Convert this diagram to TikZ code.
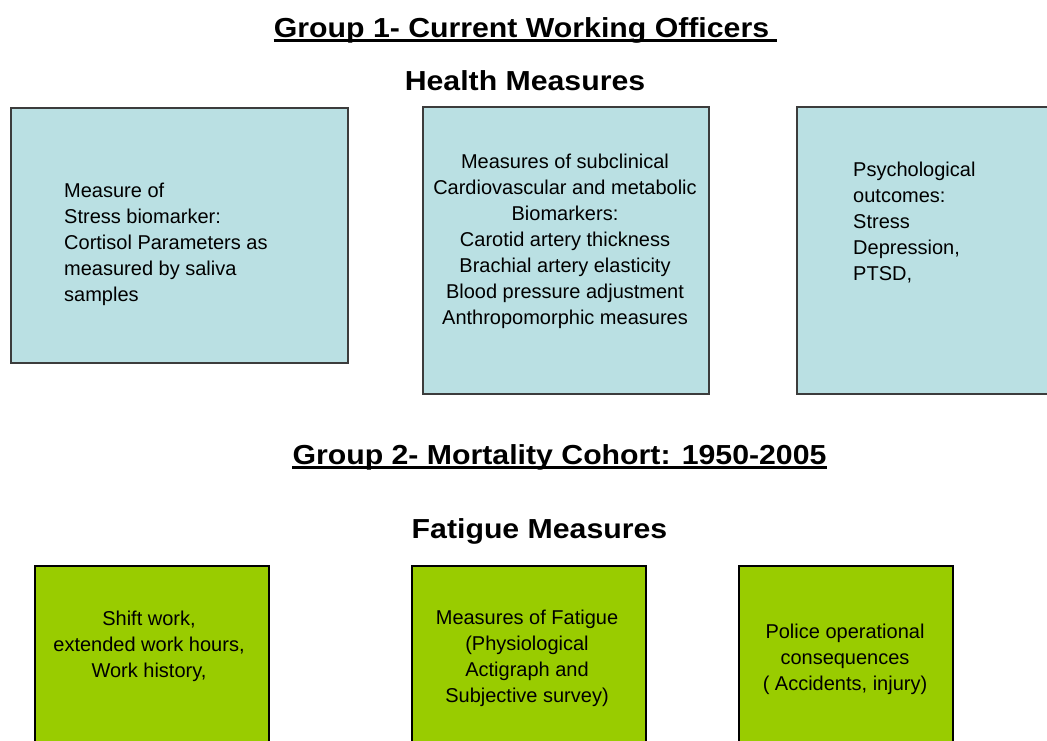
\documentclass[tikz,border=0pt]{standalone}
\usepackage{fontspec}
\setmainfont{Liberation Sans}
\newfontfamily\titlefont[FakeStretch=1.1]{Liberation Sans}
\usetikzlibrary{calc}

\definecolor{healthfill}{RGB}{186,224,227}
\definecolor{healthline}{RGB}{60,60,60}
\definecolor{fatiguefill}{RGB}{153,204,0}

\tikzset{
  heading/.style={inner sep=0pt, anchor=base, font=\titlefont\bfseries\fontsize{27.5}{33}\selectfont},
  headrule/.style={line width=2.5pt},
  healthbox/.style={draw=healthline, fill=healthfill, line width=1.5pt, inner sep=0pt, anchor=north west},
  fatiguebox/.style={draw=black, fill=fatiguefill, line width=1.5pt, inner sep=0pt, anchor=north west},
  boxtext/.style={inner sep=0pt, font=\fontsize{20}{26}\selectfont},
}

\begin{document}
\begin{tikzpicture}[x=1pt,y=-1pt]
\useasboundingbox (0,0) rectangle (1047,740);
\clip (0,0) rectangle (1047,740);

% Group 1 heading
\node[heading] (g1) at (521.5,37) {Group 1- Current Working Officers};
\draw[headrule] ($(g1.base west)+(0,-3.5pt)$) -- ($(g1.base east)+(8pt,-3.5pt)$);
\node[heading] (hm) at (525,90) {Health Measures};

% Health measure boxes
\node[healthbox, minimum width=337pt, minimum height=255pt] (b1) at (10,107) {};
\node[healthbox, minimum width=286pt, minimum height=287pt] (b2) at (422,106) {};
\node[healthbox, minimum width=270pt, minimum height=287pt] (b3) at (796,106) {};

\node[boxtext, align=left, anchor=west] (t1) at (64,244)
  {Measure of\\Stress biomarker:\\Cortisol Parameters as\\measured by saliva\\samples};
\node[boxtext, align=center] (t2) at (565,241)
  {Measures of subclinical\\Cardiovascular and metabolic\\Biomarkers:\\Carotid artery thickness\\Brachial artery elasticity\\Blood pressure adjustment\\Anthropomorphic measures};
\node[boxtext, align=left, anchor=west] (t3) at (853,223)
  {Psychological\\outcomes:\\Stress\\Depression,\\PTSD,};

% Group 2 heading
\node[heading] (g2) at (559.5,464) {Group 2- Mortality Cohort: 1950-2005};
\draw[headrule] ($(g2.base west)+(0,-3.5pt)$) -- ($(g2.base east)+(0,-3.5pt)$);
\node[heading] (fm) at (539.5,538) {Fatigue Measures};

% Fatigue measure boxes
\node[fatiguebox, minimum width=234pt, minimum height=200pt] (b4) at (34,565) {};
\node[fatiguebox, minimum width=234pt, minimum height=200pt] (b5) at (411,565) {};
\node[fatiguebox, minimum width=214pt, minimum height=200pt] (b6) at (738,565) {};

\node[boxtext, align=center] (t4) at (149,646)
  {Shift work,\\extended work hours,\\Work history,};
\node[boxtext, align=center] (t5) at (527,658.5)
  {Measures of Fatigue\\(Physiological\\Actigraph and\\Subjective survey)};
\node[boxtext, align=center] (t6) at (845,659)
  {Police operational\\consequences\\( Accidents, injury)};
\end{tikzpicture}
\end{document}
